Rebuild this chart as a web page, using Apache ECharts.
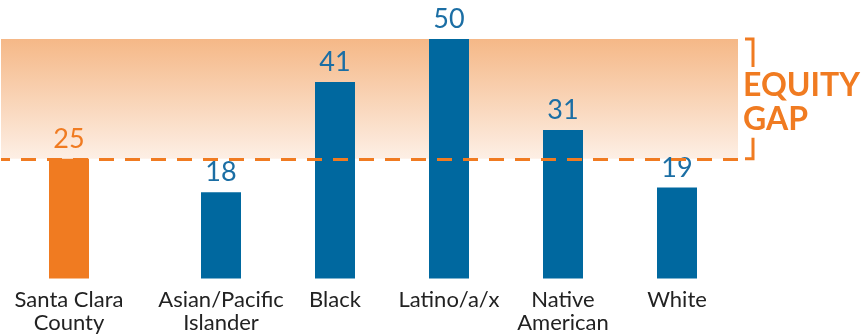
<!DOCTYPE html>
<html>
<head>
<meta charset="utf-8">
<script src="https://cdn.jsdelivr.net/npm/echarts@6/dist/echarts.min.js"></script>
<style>
  html, body { margin: 0; padding: 0; background: #ffffff; }
  #chart { width: 868px; height: 335px; }
</style>
</head>
<body>
<div id="chart"></div>
<script>
// Group labels and values; the first entry is the county-wide reference
const categories = ['Santa Clara\nCounty', 'Asian/Pacific\nIslander', 'Black', 'Latino/a/x', 'Native\nAmerican', 'White'];
const values = [25, 18, 41, 50, 31, 19];
// Equity gap spans from the county value up to the highest group value
const gapLow = values[0];
const gapHigh = Math.max(...values);
const yMax = 50;

const ORANGE = '#F07B21';
const BLUE = '#00689F';
const BLUE_TEXT = '#1B6EA4';
const FONT = 'Lato, "Open Sans", sans-serif';

const chart = echarts.init(document.getElementById('chart'), null, { renderer: 'canvas' });

const gridTop = 39;
const gridBottom = 56.5;

function catAxis(gridIndex, data) {
  return {
    type: 'category', gridIndex, data,
    axisLine: { show: false }, axisTick: { show: false },
    axisLabel: {
      color: '#222222', fontFamily: FONT, fontSize: 22, lineHeight: 23,
      margin: 10, interval: 0
    }
  };
}
function valAxis(gridIndex) {
  return { type: 'value', gridIndex, min: 0, max: yMax, show: false, splitLine: { show: false } };
}
function barLabel(color) {
  return { show: true, position: 'top', distance: 6, color, fontFamily: FONT, fontWeight: 'normal', fontSize: 27 };
}

chart.setOption({
  animation: false,
  grid: [
    { left: 12, width: 114, top: gridTop, bottom: gridBottom },   // county bar
    { left: 164, width: 570, top: gridTop, bottom: gridBottom },  // group bars
    { left: 1, right: 130, top: gridTop, bottom: gridBottom }     // equity gap band
  ],
  xAxis: [
    catAxis(0, categories.slice(0, 1)),
    catAxis(1, categories.slice(1)),
    { type: 'value', gridIndex: 2, min: 0, max: 1, show: false }
  ],
  yAxis: [valAxis(0), valAxis(1), valAxis(2)],
  series: [
    {
      type: 'custom', xAxisIndex: 2, yAxisIndex: 2, z: 1,
      data: [[0, gapLow, gapHigh]],
      renderItem(params, api) {
        const yTop = api.coord([0, api.value(2)])[1];
        const yBot = api.coord([0, api.value(1)])[1];
        const xr = api.coord([1, 0])[0] + 15;
        const mid = (yTop + yBot) / 2;
        const lineStyle = { stroke: ORANGE, lineWidth: 3, fill: null, lineJoin: 'miter', lineCap: 'butt' };
        return {
          type: 'group',
          children: [
            { type: 'polyline', shape: { points: [[xr - 8, yTop], [xr, yTop], [xr, yTop + 28]] }, style: lineStyle },
            { type: 'polyline', shape: { points: [[xr, yBot - 21], [xr, yBot], [xr - 8, yBot]] }, style: lineStyle },
            {
              type: 'text', x: xr - 10, y: mid + 4,
              style: {
                text: 'EQUITY\nGAP', fill: ORANGE, fontFamily: FONT, fontWeight: 'bold',
                fontSize: 32, lineHeight: 34, verticalAlign: 'middle', align: 'left'
              }
            }
          ]
        };
      },
      markArea: {
        silent: true,
        itemStyle: {
          color: {
            type: 'linear', x: 0, y: 0, x2: 0, y2: 1,
            colorStops: [
              { offset: 0, color: '#F5B887' },
              { offset: 1, color: '#FDEFE5' }
            ]
          }
        },
        data: [[{ yAxis: gapHigh }, { yAxis: gapLow }]]
      },
      markLine: {
        silent: true, symbol: 'none', label: { show: false },
        lineStyle: { color: ORANGE, width: 3, type: [15, 11], dashOffset: 6 },
        data: [{ yAxis: gapLow }]
      }
    },
    {
      type: 'bar', xAxisIndex: 0, yAxisIndex: 0, z: 3,
      barWidth: 40,
      data: values.slice(0, 1),
      itemStyle: { color: ORANGE },
      label: barLabel(ORANGE)
    },
    {
      type: 'bar', xAxisIndex: 1, yAxisIndex: 1, z: 3,
      barWidth: 40,
      data: values.slice(1),
      itemStyle: { color: BLUE },
      label: barLabel(BLUE_TEXT)
    }
  ]
});
</script>
</body>
</html>
